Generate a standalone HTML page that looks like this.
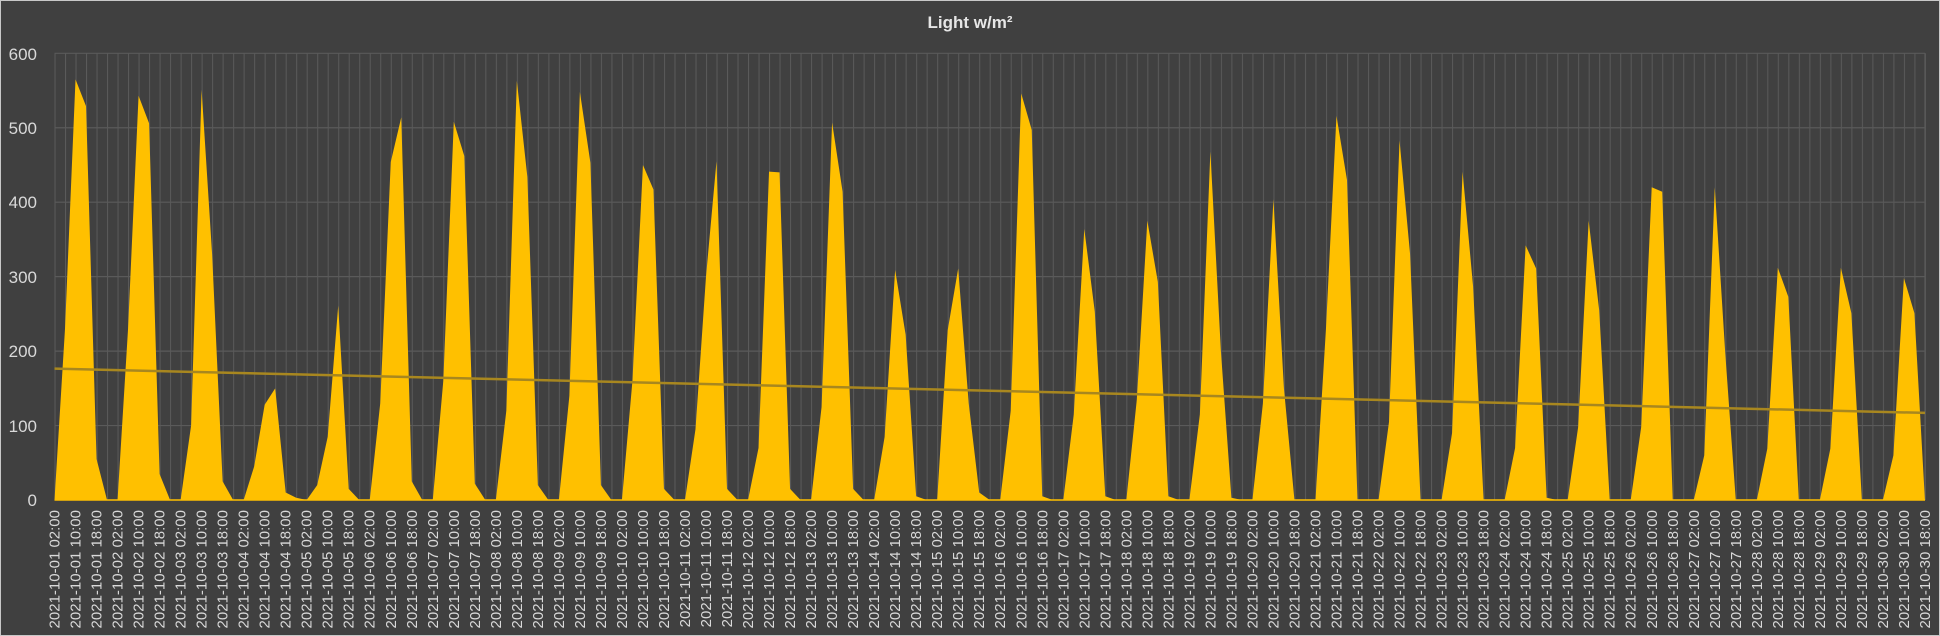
<!DOCTYPE html>
<html><head><meta charset="utf-8"><style>
html,body{margin:0;padding:0;background:#404040;}
svg{display:block;}
text{font-family:"Liberation Sans",sans-serif;}
.yl{font-size:17px;fill:#d9d9d9;text-anchor:end;}
.xl{font-size:15px;fill:#d9d9d9;text-anchor:end;}
</style></head><body>
<svg width="1940" height="636" viewBox="0 0 1940 636" xmlns="http://www.w3.org/2000/svg">
<defs>
<pattern id="vg" x="54.5" y="0" width="10.508" height="636" patternUnits="userSpaceOnUse">
<line x1="0.5" y1="0" x2="0.5" y2="636" stroke="#5a5a5a" stroke-width="1"/>
</pattern>
</defs>
<rect x="0" y="0" width="1940" height="636" fill="#404040"/>
<rect x="0.5" y="0.5" width="1939" height="635" fill="none" stroke="#c8c8c8" stroke-width="1"/>
<text x="970" y="28" style="font-size:17px;font-weight:bold;fill:#e6e6e6;text-anchor:middle">Light w/m²</text>
<rect x="54" y="53.3" width="1872" height="446.7" fill="url(#vg)"/>
<g stroke="#5a5a5a" stroke-width="1.2">
<line x1="54.5" y1="53.3" x2="1925" y2="53.3"/>
<line x1="54.5" y1="127.75" x2="1925" y2="127.75"/>
<line x1="54.5" y1="202.2" x2="1925" y2="202.2"/>
<line x1="54.5" y1="276.65" x2="1925" y2="276.65"/>
<line x1="54.5" y1="351.1" x2="1925" y2="351.1"/>
<line x1="54.5" y1="425.55" x2="1925" y2="425.55"/>
<line x1="1925" y1="53.3" x2="1925" y2="500"/>
</g>
<g transform="translate(54.5,500) scale(10.508,-0.7445)">
<polygon fill="#ffc000" points="0,0 1,230 2,565 3,529 4,55 5,0 6,0 7,230 8,543 9,506 10,35 11,0 12,0 13,100 14,551 15,330 16,25 17,0 18,0 19,45 20,128 21,150 22,10 23,3 24,0 25,20 26,85 27,261 28,15 29,0 30,0 31,130 32,454 33,514 34,25 35,0 36,0 37,160 38,508 39,462 40,22 41,0 42,0 43,120 44,563 45,434 46,20 47,0 48,0 49,140 50,548 51,453 52,20 53,0 54,0 55,160 56,450 57,417 58,15 59,0 60,0 61,95 62,300 63,455 64,15 65,0 66,0 67,70 68,441 69,440 70,15 71,0 72,0 73,125 74,507 75,414 76,15 77,0 78,0 79,85 80,309 81,222 82,5 83,0 84,0 85,228 86,311 87,130 88,10 89,0 90,0 91,120 92,546 93,497 94,5 95,0 96,0 97,115 98,364 99,253 100,5 101,0 102,0 103,135 104,375 105,293 106,5 107,0 108,0 109,115 110,468 111,200 112,3 113,0 114,0 115,130 116,404 117,150 118,0 119,0 120,0 121,230 122,516 123,430 124,0 125,0 126,0 127,105 128,483 129,331 130,0 131,0 132,0 133,90 134,441 135,287 136,0 137,0 138,0 139,70 140,342 141,311 142,3 143,0 144,0 145,98 146,375 147,255 148,0 149,0 150,0 151,98 152,420 153,414 154,0 155,0 156,0 157,60 158,420 159,197 160,0 161,0 162,0 163,69 164,312 165,273 166,0 167,0 168,0 169,69 170,312 171,251 172,0 173,0 174,0 175,60 176,298 177,251 178,0"/>
</g>
<line x1="54.5" y1="368.6" x2="1925" y2="412.9" stroke="#a8871f" stroke-width="2.5"/>
<line x1="54.5" y1="500" x2="1925" y2="500" stroke="#ffc000" stroke-width="1.5"/>
<text class="yl" x="37" y="60">600</text>
<text class="yl" x="37" y="134">500</text>
<text class="yl" x="37" y="208">400</text>
<text class="yl" x="37" y="283">300</text>
<text class="yl" x="37" y="357">200</text>
<text class="yl" x="37" y="432">100</text>
<text class="yl" x="37" y="506">0</text>
<g class="xl">
<text class="xl" transform="translate(59.5,510) rotate(-90)">2021-10-01 02:00</text>
<text class="xl" transform="translate(80.5,510) rotate(-90)">2021-10-01 10:00</text>
<text class="xl" transform="translate(101.5,510) rotate(-90)">2021-10-01 18:00</text>
<text class="xl" transform="translate(122.5,510) rotate(-90)">2021-10-02 02:00</text>
<text class="xl" transform="translate(143.6,510) rotate(-90)">2021-10-02 10:00</text>
<text class="xl" transform="translate(164.6,510) rotate(-90)">2021-10-02 18:00</text>
<text class="xl" transform="translate(185.6,510) rotate(-90)">2021-10-03 02:00</text>
<text class="xl" transform="translate(206.6,510) rotate(-90)">2021-10-03 10:00</text>
<text class="xl" transform="translate(227.6,510) rotate(-90)">2021-10-03 18:00</text>
<text class="xl" transform="translate(248.6,510) rotate(-90)">2021-10-04 02:00</text>
<text class="xl" transform="translate(269.7,510) rotate(-90)">2021-10-04 10:00</text>
<text class="xl" transform="translate(290.7,510) rotate(-90)">2021-10-04 18:00</text>
<text class="xl" transform="translate(311.7,510) rotate(-90)">2021-10-05 02:00</text>
<text class="xl" transform="translate(332.7,510) rotate(-90)">2021-10-05 10:00</text>
<text class="xl" transform="translate(353.7,510) rotate(-90)">2021-10-05 18:00</text>
<text class="xl" transform="translate(374.7,510) rotate(-90)">2021-10-06 02:00</text>
<text class="xl" transform="translate(395.8,510) rotate(-90)">2021-10-06 10:00</text>
<text class="xl" transform="translate(416.8,510) rotate(-90)">2021-10-06 18:00</text>
<text class="xl" transform="translate(437.8,510) rotate(-90)">2021-10-07 02:00</text>
<text class="xl" transform="translate(458.8,510) rotate(-90)">2021-10-07 10:00</text>
<text class="xl" transform="translate(479.8,510) rotate(-90)">2021-10-07 18:00</text>
<text class="xl" transform="translate(500.8,510) rotate(-90)">2021-10-08 02:00</text>
<text class="xl" transform="translate(521.9,510) rotate(-90)">2021-10-08 10:00</text>
<text class="xl" transform="translate(542.9,510) rotate(-90)">2021-10-08 18:00</text>
<text class="xl" transform="translate(563.9,510) rotate(-90)">2021-10-09 02:00</text>
<text class="xl" transform="translate(584.9,510) rotate(-90)">2021-10-09 10:00</text>
<text class="xl" transform="translate(605.9,510) rotate(-90)">2021-10-09 18:00</text>
<text class="xl" transform="translate(626.9,510) rotate(-90)">2021-10-10 02:00</text>
<text class="xl" transform="translate(648.0,510) rotate(-90)">2021-10-10 10:00</text>
<text class="xl" transform="translate(669.0,510) rotate(-90)">2021-10-10 18:00</text>
<text class="xl" transform="translate(690.0,510) rotate(-90)">2021-10-11 02:00</text>
<text class="xl" transform="translate(711.0,510) rotate(-90)">2021-10-11 10:00</text>
<text class="xl" transform="translate(732.0,510) rotate(-90)">2021-10-11 18:00</text>
<text class="xl" transform="translate(753.0,510) rotate(-90)">2021-10-12 02:00</text>
<text class="xl" transform="translate(774.1,510) rotate(-90)">2021-10-12 10:00</text>
<text class="xl" transform="translate(795.1,510) rotate(-90)">2021-10-12 18:00</text>
<text class="xl" transform="translate(816.1,510) rotate(-90)">2021-10-13 02:00</text>
<text class="xl" transform="translate(837.1,510) rotate(-90)">2021-10-13 10:00</text>
<text class="xl" transform="translate(858.1,510) rotate(-90)">2021-10-13 18:00</text>
<text class="xl" transform="translate(879.1,510) rotate(-90)">2021-10-14 02:00</text>
<text class="xl" transform="translate(900.2,510) rotate(-90)">2021-10-14 10:00</text>
<text class="xl" transform="translate(921.2,510) rotate(-90)">2021-10-14 18:00</text>
<text class="xl" transform="translate(942.2,510) rotate(-90)">2021-10-15 02:00</text>
<text class="xl" transform="translate(963.2,510) rotate(-90)">2021-10-15 10:00</text>
<text class="xl" transform="translate(984.2,510) rotate(-90)">2021-10-15 18:00</text>
<text class="xl" transform="translate(1005.2,510) rotate(-90)">2021-10-16 02:00</text>
<text class="xl" transform="translate(1026.3,510) rotate(-90)">2021-10-16 10:00</text>
<text class="xl" transform="translate(1047.3,510) rotate(-90)">2021-10-16 18:00</text>
<text class="xl" transform="translate(1068.3,510) rotate(-90)">2021-10-17 02:00</text>
<text class="xl" transform="translate(1089.3,510) rotate(-90)">2021-10-17 10:00</text>
<text class="xl" transform="translate(1110.3,510) rotate(-90)">2021-10-17 18:00</text>
<text class="xl" transform="translate(1131.3,510) rotate(-90)">2021-10-18 02:00</text>
<text class="xl" transform="translate(1152.4,510) rotate(-90)">2021-10-18 10:00</text>
<text class="xl" transform="translate(1173.4,510) rotate(-90)">2021-10-18 18:00</text>
<text class="xl" transform="translate(1194.4,510) rotate(-90)">2021-10-19 02:00</text>
<text class="xl" transform="translate(1215.4,510) rotate(-90)">2021-10-19 10:00</text>
<text class="xl" transform="translate(1236.4,510) rotate(-90)">2021-10-19 18:00</text>
<text class="xl" transform="translate(1257.4,510) rotate(-90)">2021-10-20 02:00</text>
<text class="xl" transform="translate(1278.5,510) rotate(-90)">2021-10-20 10:00</text>
<text class="xl" transform="translate(1299.5,510) rotate(-90)">2021-10-20 18:00</text>
<text class="xl" transform="translate(1320.5,510) rotate(-90)">2021-10-21 02:00</text>
<text class="xl" transform="translate(1341.5,510) rotate(-90)">2021-10-21 10:00</text>
<text class="xl" transform="translate(1362.5,510) rotate(-90)">2021-10-21 18:00</text>
<text class="xl" transform="translate(1383.5,510) rotate(-90)">2021-10-22 02:00</text>
<text class="xl" transform="translate(1404.6,510) rotate(-90)">2021-10-22 10:00</text>
<text class="xl" transform="translate(1425.6,510) rotate(-90)">2021-10-22 18:00</text>
<text class="xl" transform="translate(1446.6,510) rotate(-90)">2021-10-23 02:00</text>
<text class="xl" transform="translate(1467.6,510) rotate(-90)">2021-10-23 10:00</text>
<text class="xl" transform="translate(1488.6,510) rotate(-90)">2021-10-23 18:00</text>
<text class="xl" transform="translate(1509.6,510) rotate(-90)">2021-10-24 02:00</text>
<text class="xl" transform="translate(1530.7,510) rotate(-90)">2021-10-24 10:00</text>
<text class="xl" transform="translate(1551.7,510) rotate(-90)">2021-10-24 18:00</text>
<text class="xl" transform="translate(1572.7,510) rotate(-90)">2021-10-25 02:00</text>
<text class="xl" transform="translate(1593.7,510) rotate(-90)">2021-10-25 10:00</text>
<text class="xl" transform="translate(1614.7,510) rotate(-90)">2021-10-25 18:00</text>
<text class="xl" transform="translate(1635.7,510) rotate(-90)">2021-10-26 02:00</text>
<text class="xl" transform="translate(1656.8,510) rotate(-90)">2021-10-26 10:00</text>
<text class="xl" transform="translate(1677.8,510) rotate(-90)">2021-10-26 18:00</text>
<text class="xl" transform="translate(1698.8,510) rotate(-90)">2021-10-27 02:00</text>
<text class="xl" transform="translate(1719.8,510) rotate(-90)">2021-10-27 10:00</text>
<text class="xl" transform="translate(1740.8,510) rotate(-90)">2021-10-27 18:00</text>
<text class="xl" transform="translate(1761.8,510) rotate(-90)">2021-10-28 02:00</text>
<text class="xl" transform="translate(1782.9,510) rotate(-90)">2021-10-28 10:00</text>
<text class="xl" transform="translate(1803.9,510) rotate(-90)">2021-10-28 18:00</text>
<text class="xl" transform="translate(1824.9,510) rotate(-90)">2021-10-29 02:00</text>
<text class="xl" transform="translate(1845.9,510) rotate(-90)">2021-10-29 10:00</text>
<text class="xl" transform="translate(1866.9,510) rotate(-90)">2021-10-29 18:00</text>
<text class="xl" transform="translate(1887.9,510) rotate(-90)">2021-10-30 02:00</text>
<text class="xl" transform="translate(1909.0,510) rotate(-90)">2021-10-30 10:00</text>
<text class="xl" transform="translate(1930.0,510) rotate(-90)">2021-10-30 18:00</text>
</g>
</svg>
</body></html>
